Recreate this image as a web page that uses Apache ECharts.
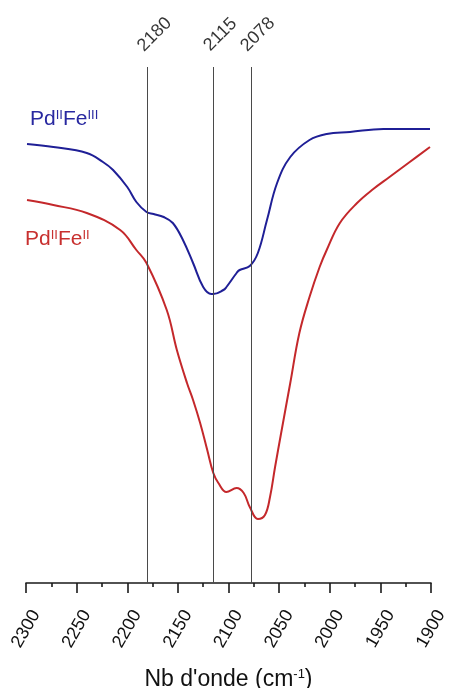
<!DOCTYPE html>
<html>
<head>
<meta charset="utf-8">
<script src="https://cdn.jsdelivr.net/npm/echarts@6/dist/echarts.min.js"></script>
<style>
  html, body { margin: 0; padding: 0; background: #fff; }
  #chart { width: 449px; height: 688px; }
</style>
</head>
<body>
<div id="chart"></div>
<script>
// IR spectra, wavenumber (cm-1) vs transmittance (a.u.)
var blueWn  = [2299, 2273, 2240, 2224, 2214, 2200, 2191, 2181, 2174, 2164, 2155, 2145, 2135, 2125, 2117, 2115, 2105, 2102, 2092, 2089, 2079, 2071, 2062, 2052, 2039, 2020, 2003, 1980, 1947, 1901];
var blueVal = [439, 436, 430, 421, 413, 396, 381, 371, 369, 366, 360, 343, 320, 296, 289, 289, 293, 296, 310, 313, 317, 330, 363, 400, 426, 443, 449, 451, 454, 454];

var redWn  = [2299, 2273, 2240, 2207, 2191, 2181, 2161, 2151, 2141, 2135, 2128, 2121, 2115, 2110, 2102, 2092, 2085, 2079, 2071, 2064, 2059, 2054, 2048, 2039, 2030, 2020, 2010, 2003, 1990, 1973, 1957, 1941, 1921, 1901];
var redVal = [383, 378, 370, 353, 333, 320, 273, 233, 200, 183, 160, 133, 110, 100, 91, 95, 90, 76, 64, 68, 86, 116, 150, 200, 250, 286, 316, 333, 360, 380, 394, 406, 421, 436];

var peakWn = [2180, 2115, 2078];

function pairs(xs, ys) {
  var out = [];
  for (var i = 0; i < xs.length; i++) out.push([xs[i], ys[i]]);
  return out;
}

var chart = echarts.init(document.getElementById('chart'), null, { renderer: 'canvas' });

var font = '"Liberation Sans", Arial, sans-serif';
var yTop = 516;

var option = {
  animation: false,
  backgroundColor: '#fff',
  grid: { left: 26, right: 18, top: 67, bottom: 105, containLabel: false, outerBoundsMode: 'none' },
  xAxis: {
    type: 'value',
    min: 1900,
    max: 2300,
    interval: 50,
    inverse: true,
    name: "Nb d'onde (cm{sup|-1})",
    nameLocation: 'middle',
    nameGap: 85,
    nameTextStyle: {
      fontFamily: font, fontSize: 23, color: '#111',
      rich: { sup: { fontFamily: font, fontSize: 13, color: '#111', verticalAlign: 'top', padding: [0, 0, 10, 0] } }
    },
    axisLine: { onZero: false, lineStyle: { color: '#1a1a1a', width: 1.6 } },
    axisTick: { show: true, inside: false, length: 10, lineStyle: { color: '#1a1a1a', width: 1.6 } },
    minorTick: { show: true, splitNumber: 2, length: 4, lineStyle: { color: '#1a1a1a', width: 1.6 } },
    splitLine: { show: false },
    minorSplitLine: { show: false },
    axisLabel: {
      rotate: 60, align: 'center', verticalAlign: 'middle', margin: 46,
      fontFamily: font, fontSize: 18, color: '#111',
      showMinLabel: true, showMaxLabel: true, hideOverlap: false,
      formatter: function (v) { return String(v); }
    }
  },
  yAxis: {
    type: 'value', min: 0, max: yTop, show: false,
    splitLine: { show: false }
  },
  graphic: [
    {
      type: 'text', left: 30, top: 109,
      style: {
        text: 'Pd{sup|II}Fe{sup|III}',
        fontSize: 21, fontFamily: font, fill: '#2828a0',
        rich: { sup: { fontSize: 13, fontFamily: font, fill: '#2828a0', verticalAlign: 'top', padding: [0, 0, 8, 0] } }
      }
    },
    {
      type: 'text', left: 25, top: 229,
      style: {
        text: 'Pd{sup|II}Fe{sup|II}',
        fontSize: 21, fontFamily: font, fill: '#c8302f',
        rich: { sup: { fontSize: 13, fontFamily: font, fill: '#c8302f', verticalAlign: 'top', padding: [0, 0, 8, 0] } }
      }
    }
  ],
  series: [
    {
      name: 'PdIIFeIII',
      type: 'line',
      data: pairs(blueWn, blueVal),
      smooth: 0.4,
      showSymbol: false,
      lineStyle: { color: '#1f1f96', width: 2 },
      itemStyle: { color: '#1f1f96' },
      markLine: {
        silent: true,
        symbol: 'none',
        label: { show: false },
        lineStyle: { color: '#4a4a4a', width: 1, type: 'solid' },
        data: peakWn.map(function (w) { return { xAxis: w }; })
      },
      z: 3
    },
    {
      name: 'PdIIFeII',
      type: 'line',
      data: pairs(redWn, redVal),
      smooth: 0.4,
      showSymbol: false,
      lineStyle: { color: '#c4282b', width: 2 },
      itemStyle: { color: '#c4282b' },
      z: 3
    },
    {
      name: 'peaks',
      type: 'scatter',
      data: peakWn.map(function (w) { return [w, yTop]; }),
      symbolSize: 0,
      clip: false,
      silent: true,
      label: {
        show: true,
        position: 'inside',
        rotate: 45,
        align: 'center',
        verticalAlign: 'middle',
        offset: [28, -18],
        fontFamily: font, fontSize: 18, color: '#000',
        formatter: function (p) { return String(p.value[0]); }
      }
    }
  ]
};

chart.setOption(option);
</script>
</body>
</html>
